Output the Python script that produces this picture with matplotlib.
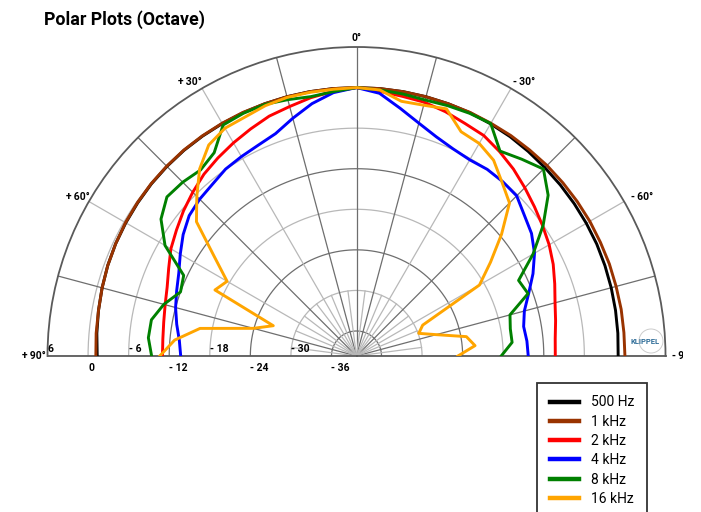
import numpy as np
import matplotlib
matplotlib.use("Agg")
import matplotlib.pyplot as plt
from matplotlib.lines import Line2D
from matplotlib.patches import Ellipse
from matplotlib.transforms import Bbox, TransformedBbox, offset_copy

plt.rcParams['font.family'] = ['Roboto', 'DejaVu Sans']

# angles in degrees, + is left, - is right
angles = list(range(-90, 95, 5))

# levels in dB, from -90 to +90 in 5 degree steps
hz500 = [-1.0, -0.9, -0.8, -0.7, -0.6, -0.5, -0.45, -0.4, -0.35, -0.3, -0.2, -0.1, -0.05, 0, 0, 0, 0, 0,
         0,
         0, 0, 0, 0, 0, 0, 0, 0, -0.05, -0.1, -0.2, -0.3, -0.4, -0.55, -0.75, -0.95, -1.15, -1.35]
khz1 = [0, 0, 0.05, 0.05, 0.1, 0.1, 0.15, 0.15, 0.15, 0.15, 0.1, 0.1, 0.05, 0.05, 0, 0, 0, 0,
        0,
        0, 0, 0, 0, 0.05, 0.05, 0.05, 0.05, 0, -0.05, -0.15, -0.25, -0.4, -0.55, -0.75, -0.95, -1.05, -1.15]
khz2 = [-10.3, -10.2, -9.8, -9.3, -8.5, -7.6, -6.8, -6.1, -5.35, -4.5, -3.6, -2.8, -2.05, -1.75, -1.25, -0.85, -0.7, -0.4,
        0,
        -0.4, -0.9, -1.5, -1.95, -2.65, -3.3, -3.95, -4.6, -5.45, -6.3, -7.2, -8.0, -9.05, -9.9, -10.4, -10.75, -10.95, -11.0]
khz4 = [-14.3, -14.4, -14.6, -14.0, -12.6, -10.9, -9.3, -8.1, -7.3, -6.2, -6.05, -6.0, -6.2, -5.9, -5.2, -4.05, -2.5, -0.7,
        0,
        -0.6, -1.8, -3.3, -4.7, -5.3, -5.65, -5.95, -6.55, -6.9, -7.4, -8.4, -9.6, -10.7, -11.4, -12.0, -12.7, -13.4, -13.7]
khz8 = [-18.3, -16.6, -16.6, -16.2, -12.7, -13.25, -9.55, -6.0, -2.7, -0.6, -1.7, -2.7, 0.0, -0.1, -0.3, -0.5, -0.35, -0.2,
        0,
        -0.45, -0.75, -0.45, -0.1, -0.1, -0.25, -3.0, -3.8, -3.35, -3.1, -4.4, -7.0, -11.5, -12.0, -10.2, -8.9, -8.8, -9.4]
khz16 = [-24.7, -22.1, -23.2, -27.5, -29.9, -28.9, -18.7, -15.5, -11.7, -7.7, -6.2, -4.35, -3.4, -3.1, -0.8, -1.3, -1.45, -0.2,
         0,
         -0.1, -0.1, -0.1, -0.3, -0.7, -0.8, -1.6, -3.6, -6.3, -8.8, -14.0, -17.6, -16.6, -26.6, -23.9, -16.2, -12.7, -10.6]

series = [
    ("500 Hz", hz500, "#000000"),
    ("1 kHz", khz1, "#993300"),
    ("2 kHz", khz2, "#ff0000"),
    ("4 kHz", khz4, "#0000ff"),
    ("8 kHz", khz8, "#008000"),
    ("16 kHz", khz16, "#ffa500"),
]

ring_values = [0, -6, -12, -18, -24, -30, -36]
ring_labels = ["0", "-6", "-12", "-18", "-24", "-30", "-36"]
# angle label text, placed angle and radius (just outside the rim)
angle_labels = [("0°", 0, 7.35), ("+30°", 31.3, 7.8), ("-30°", -31.5, 7.8),
                ("+60°", 60.3, 7.75), ("-60°", -60.8, 8.6)]

rmin, rmax = -39.7, 6
dark = "#6e6e6e"
light = "#b8b8b8"
thin = "\u2009"

fig = plt.figure(figsize=(7.01, 5.12), dpi=100)
# square box, the half disc fills its width and sits in its middle
ax = fig.add_axes([47.5 / 701, 1.5 / 512, 618 / 701, 618 / 512], projection="polar")
ax.set_theta_zero_location("N")
ax.set_theta_direction(1)
ax.set_thetamin(-90)
ax.set_thetamax(90)
ax.set_ylim(rmin, rmax)
ax.set_xticks([])
ax.set_yticks([])
ax.grid(False)

# grid circles
t = np.linspace(-np.pi / 2, np.pi / 2, 300)
for v in ring_values:
    col = dark if v % 12 == 0 and v != 0 else light
    ax.plot(t, np.full_like(t, v), color=col, lw=0.9, zorder=1)

# radial lines
for a in range(-90, 91, 15):
    col = light if a % 30 == 0 and a % 90 != 0 else dark
    ax.plot([np.deg2rad(a)] * 2, [rmin, rmax], color=col, lw=0.9, zorder=1)
for a in np.arange(-82.5, 90, 15):
    ax.plot([np.deg2rad(a)] * 2, [rmin, -30], color=light, lw=0.9, zorder=1)

for name in ["polar", "start", "end"]:
    ax.spines[name].set_color("#5a5a5a")
    ax.spines[name].set_linewidth(1.3)
ax.spines["inner"].set_visible(False)

# curves
th = np.deg2rad(angles)
handles = []
for name, vals, col in series:
    ax.plot(th, vals, color=col, lw=2.1, zorder=3, solid_joinstyle="round")
    handles.append(Line2D([], [], color=col, lw=3.2, label=name))

# angle labels
for s, a, r in angle_labels:
    s = s[0] + thin + s[1:] if s[0] in "+-" else s
    ax.text(np.deg2rad(a), r, s, ha="center", va="center", fontsize=7.5,
            fontweight="bold", clip_on=False)
ax.text(np.pi / 2, 6.2, "+" + thin + "90°", ha="right", va="center", fontsize=7.5,
        fontweight="bold", clip_on=False)
t90 = ax.text(-np.pi / 2, 6.9, "-" + thin + "90°", ha="left", va="center", fontsize=7.5,
              fontweight="bold")
t90.set_clip_box(TransformedBbox(Bbox([[0, 0], [683 / 701, 1]]), fig.transFigure))
t90.set_clip_on(True)

# radial labels
up = offset_copy(ax.transData, fig=fig, x=0, y=2, units="dots")
down = offset_copy(ax.transData, fig=fig, x=0, y=-12, units="dots")
ax.text(np.pi / 2, rmax, "6", ha="left", va="bottom", fontsize=7.5,
        fontweight="bold", transform=up, clip_on=False)
for i, (v, s) in enumerate(zip(ring_values, ring_labels)):
    tr = down if i % 2 == 0 else up
    va = "center" if i % 2 == 0 else "bottom"
    ax.text(np.pi / 2, v, s.replace("-", "- "), ha="left", va=va, fontsize=7.5,
            fontweight="bold", transform=tr, clip_on=False)

# logo
fig.text(645.5 / 701, 1 - 342 / 512, "KLIPPEL", ha="center", va="center",
         fontsize=5.5, color="#2f6d98", fontweight="bold", zorder=5)
fig.add_artist(Ellipse((651 / 701, 1 - 341 / 512), 24 / 701, 24 / 512,
                       fill=False, edgecolor="#cccccc", lw=0.7))

fig.text(44 / 701, 1 - 20 / 512, "Polar Plots (Octave)", fontsize=12.8,
         fontweight="bold", va="center", ha="left")

leg = fig.legend(handles=handles, loc="upper left",
                 bbox_to_anchor=(537 / 701, 1 - 383 / 512), borderaxespad=0,
                 fontsize=10, frameon=True, fancybox=False, edgecolor="black",
                 handlelength=2.1, handletextpad=0.9, borderpad=0.9,
                 labelspacing=0.38)
leg.get_frame().set_linewidth(1.3)

fig.savefig("out.png", dpi=100)
